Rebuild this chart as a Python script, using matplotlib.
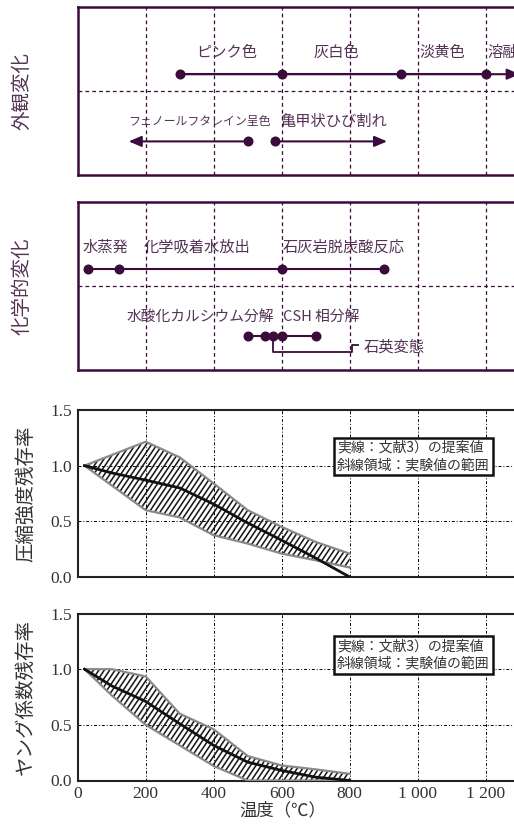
import matplotlib
matplotlib.use('Agg')
import matplotlib.pyplot as plt
import numpy as np
from matplotlib.patches import Polygon
from matplotlib.collections import LineCollection

plt.rcParams['font.family'] = ['Noto Sans CJK JP', 'DejaVu Sans']

# --- appearance changes (temperature, C) ---
appear_top_pts = [300, 600, 950, 1200]
appear_top_end = 1300
appear_top_labels = ['ピンク色', '灰白色', '淡黄色', '溶融']
appear_top_label_x = [348, 693, 1005, 1205]
phenol_pt, phenol_end = 500, 150
phenol_label, phenol_label_x = 'フェノールフタレイン呈色', 149
crack_pt, crack_end = 580, 910
crack_label, crack_label_x = '亀甲状ひび割れ', 596

# --- chemical changes ---
chem_top_pts = [30, 120, 600, 900]
chem_top_labels = ['水蒸発', '化学吸着水放出', '石灰岩脱炭酸反応']
chem_top_label_x = [15, 195, 603]
chem_bot_pts = [500, 550, 575, 600, 700]
chem_bot_labels = ['水酸化カルシウム分解', 'CSH 相分解']
chem_bot_label_x = [144, 603]
quartz_pt, quartz_label, quartz_label_x = 575, '石英変態', 840

# --- residual ratios ---
temps = [20, 100, 200, 300, 400, 500, 600, 700, 800]
strength_prop = [1.0, 0.935, 0.87, 0.80, 0.655, 0.485, 0.33, 0.17, 0.0]
strength_up_t = [20, 200, 300, 400, 500, 600, 700, 800]
strength_up = [1.0, 1.215, 1.075, 0.84, 0.60, 0.45, 0.315, 0.21]
strength_lo = [1.0, 0.60, 0.535, 0.375, 0.30, 0.21, 0.15, 0.085]
young_prop = [1.0, 0.85, 0.71, 0.51, 0.315, 0.165, 0.09, 0.03, 0.0]
young_up = [1.0, 1.0, 0.935, 0.60, 0.46, 0.22, 0.135, 0.10, 0.06]
young_lo = [1.0, 0.765, 0.50, 0.315, 0.13, 0.0, 0.0, 0.0, 0.0]

xticks = [0, 200, 400, 600, 800, 1000, 1200]
xtick_labels = ['0', '200', '400', '600', '800', '1 000', '1 200']
yticks = [0.0, 0.5, 1.0, 1.5]
ytick_labels = ['0.0', '0.5', '1.0', '1.5']
legend_text = '実線：文献3）の提案値\n斜線領域：実験値の範囲'

PURPLE = '#3b0b3b'
PTEXT = '#553355'
NUMFONT = 'Liberation Serif'

W, H, DPI = 514, 832, 100
fig = plt.figure(figsize=(W / DPI, H / DPI), dpi=DPI)

left = 77.7 / W
width = 1400 * 0.34 / W


def make_ax(top_px, bot_px):
    return fig.add_axes([left, 1 - bot_px / H, width, (bot_px - top_px) / H])


def event_panel(ax):
    ax.set_xlim(0, 1400)
    ax.set_ylim(0, 1)
    ax.set_xticks(xticks[1:])
    ax.set_yticks([0.5])
    ax.tick_params(length=0, labelbottom=False, labelleft=False)
    ax.grid(True, color=PURPLE, ls=(0, (3, 2.5)), lw=0.9)
    for s in ax.spines.values():
        s.set_color(PURPLE)
        s.set_linewidth(1.8)


def arrow(ax, x0, x1, y):
    ax.annotate('', xy=(x1, y), xytext=(x0, y),
                arrowprops=dict(arrowstyle='-|>,head_length=0.75,head_width=0.32',
                                color=PURPLE, lw=1.5, shrinkA=0, shrinkB=0))


def dots(ax, xs, y):
    ax.plot([min(xs), max(xs)], [y, y], color=PURPLE, lw=1.5, solid_capstyle='butt')
    ax.plot(xs, [y] * len(xs), 'o', ms=6.2, color=PURPLE, zorder=5)


def label(ax, x, y, s, size=11):
    ax.text(x, y, s, ha='left', va='center', fontsize=size, color=PTEXT)


# panel 1: appearance
ax1 = make_ax(7, 175)
event_panel(ax1)
arrow(ax1, appear_top_pts[0], appear_top_end, 0.6)
dots(ax1, appear_top_pts, 0.6)
for s, x in zip(appear_top_labels, appear_top_label_x):
    label(ax1, x, 0.73, s)
arrow(ax1, phenol_pt, phenol_end, 0.2)
ax1.plot([phenol_pt], [0.2], 'o', ms=6.2, color=PURPLE, zorder=5)
label(ax1, phenol_label_x, 0.32, phenol_label, size=8.6)
arrow(ax1, crack_pt, crack_end, 0.2)
ax1.plot([crack_pt], [0.2], 'o', ms=6.2, color=PURPLE, zorder=5)
label(ax1, crack_label_x, 0.32, crack_label)
ax1.set_ylabel('外観変化', fontsize=14, color=PTEXT)
ax1.yaxis.set_label_coords(-0.094, 0.5)

# panel 2: chemical
ax2 = make_ax(201.7, 370)
event_panel(ax2)
dots(ax2, chem_top_pts, 0.6)
for s, x in zip(chem_top_labels, chem_top_label_x):
    label(ax2, x, 0.73, s)
dots(ax2, chem_bot_pts, 0.2)
for s, x in zip(chem_bot_labels, chem_bot_label_x):
    label(ax2, x, 0.315, s, size=10.6)
ax2.plot([quartz_pt, quartz_pt, 806, 806, 825], [0.2, 0.104, 0.104, 0.147, 0.147],
         color=PURPLE, lw=1.3)
label(ax2, quartz_label_x, 0.137, quartz_label)
ax2.set_ylabel('化学的変化', fontsize=14, color=PTEXT)
ax2.yaxis.set_label_coords(-0.094, 0.5)


def hatched_band(ax, xu, yu, xl, yl, angle=56, step=5.4):
    verts = list(zip(xu, yu)) + list(zip(xl[::-1], yl[::-1]))
    patch = Polygon(verts, closed=True, facecolor='none', edgecolor='none')
    ax.add_patch(patch)
    pos = ax.get_position()
    wpx = pos.width * W
    hpx = pos.height * H
    run = hpx / np.tan(np.radians(angle))
    segs = []
    for x0 in np.arange(-run, wpx, step):
        segs.append([(x0 / wpx, 0), ((x0 + run) / wpx, 1)])
    lc = LineCollection(segs, colors='#1a1a1a', linewidths=1.15, transform=ax.transAxes)
    lc.set_clip_path(patch)
    ax.add_collection(lc)
    ax.plot(xu, yu, color='#8a8a8a', lw=1.6, zorder=3)
    ax.plot(xl, yl, color='#8a8a8a', lw=1.6, zorder=3)


def ratio_panel(ax, ylabel, show_x):
    ax.set_xlim(0, 1400)
    ax.set_ylim(0, 1.5)
    ax.set_xticks(xticks)
    ax.set_yticks(yticks)
    ax.set_yticklabels(ytick_labels, family=NUMFONT, fontsize=12.5, color='#333333')
    if show_x:
        ax.set_xticklabels(xtick_labels, family=NUMFONT, fontsize=12.5, color='#333333')
    else:
        ax.tick_params(labelbottom=False)
    ax.tick_params(length=0, pad=4)
    ax.grid(True, color='black', ls=(0, (3, 2, 1, 2)), lw=0.7)
    for s in ax.spines.values():
        s.set_color('#222222')
        s.set_linewidth(1.5)
    ax.set_ylabel(ylabel, fontsize=14, color='#333333')
    ax.yaxis.set_label_coords(-0.088, 0.5)


def note(ax, y):
    ax.text(0.545, y, legend_text, transform=ax.transAxes, ha='left', va='center',
            fontsize=10, color='#333333', linespacing=1.3,
            bbox=dict(boxstyle='square,pad=0.22', fc='white', ec='#111111', lw=1.8))


# panel 3: compressive strength
ax3 = make_ax(410, 577)
ratio_panel(ax3, '圧縮強度残存率', False)
hatched_band(ax3, strength_up_t, strength_up, strength_up_t, strength_lo)
ax3.plot(temps, strength_prop, color='#111111', lw=2.0, zorder=4)
note(ax3, 0.722)

# panel 4: Young's modulus
ax4 = make_ax(613.5, 780.5)
ratio_panel(ax4, 'ヤング係数残存率', True)
hatched_band(ax4, temps, young_up, temps, young_lo)
ax4.plot(temps, young_prop, color='#111111', lw=2.0, zorder=4)
note(ax4, 0.752)
ax4.text(0.43, -0.18, '温度（℃）', transform=ax4.transAxes, ha='center', va='center',
         fontsize=12.5, color='#333333')

fig.savefig('out.png', dpi=DPI)
